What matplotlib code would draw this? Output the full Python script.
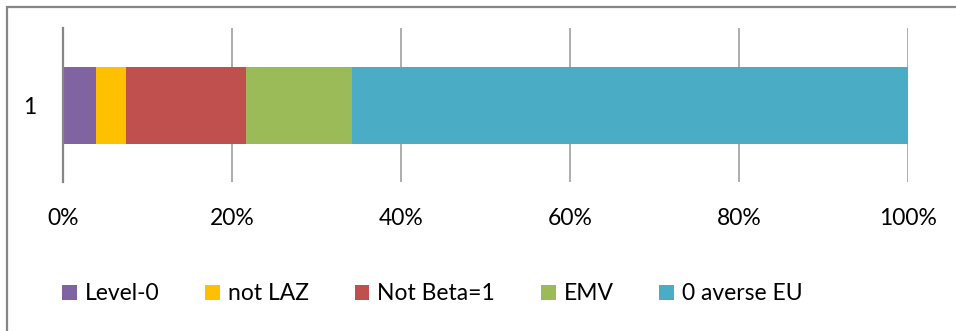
import matplotlib
matplotlib.use("Agg")
import matplotlib.pyplot as plt
from matplotlib.patches import Patch, Rectangle
from matplotlib.ticker import FuncFormatter

# share of each decision type, percent of the whole
categories = ["1"]
series_names = ["Level-0", "not LAZ", "Not Beta=1", "EMV", "0 averse EU"]
series_values = [3.9, 3.5, 14.3, 12.5, 65.8]
colors = ["#8064A2", "#FFC000", "#C0504D", "#9BBB59", "#4BACC6"]
x_ticks = [0, 20, 40, 60, 80, 100]

W, H = 956, 331
plt.rcParams["font.family"] = ["Lato", "DejaVu Sans"]

fig = plt.figure(figsize=(W / 100, H / 100), dpi=100)
ax = fig.add_axes([63 / W, 1 - 182 / H, 845 / W, 154 / H])

left = 0.0
for name, val, col in zip(series_names, series_values, colors):
    ax.barh(categories, [val], left=left, height=0.5, color=col, label=name, zorder=3)
    left += val

ax.set_xlim(0, 100)
ax.set_ylim(-0.5, 0.5)
ax.set_xticks(x_ticks)
ax.xaxis.set_major_formatter(FuncFormatter(lambda v, _: f"{v:.0f}%"))
ax.grid(axis="x", color="#A0A0A0", linewidth=1.2, zorder=0)
ax.tick_params(axis="both", length=0, labelsize=16.5, colors="black")
ax.tick_params(axis="x", pad=19)
ax.tick_params(axis="y", pad=19)

for side in ["top", "right", "bottom"]:
    ax.spines[side].set_visible(False)
ax.spines["left"].set_color("#868686")
ax.spines["left"].set_linewidth(1.6)
ax.spines["left"].set_zorder(4)

# chart frame
fig.patches.append(Rectangle((7 / W, -0.1), 1.2, 1 - 7 / H + 0.1, transform=fig.transFigure,
                             fill=False, edgecolor="#868686", linewidth=1.6))

handles = [Patch(facecolor=c, edgecolor="none") for c in colors]
fig.legend(handles, series_names, loc="center left", bbox_to_anchor=(62 / W, 1 - 294 / H),
           ncol=5, frameon=False, fontsize=16.5, borderpad=0, handlelength=0.64,
           handleheight=0.64, handletextpad=0.35, columnspacing=2.0, borderaxespad=0)

fig.savefig("out.png", dpi=100)
